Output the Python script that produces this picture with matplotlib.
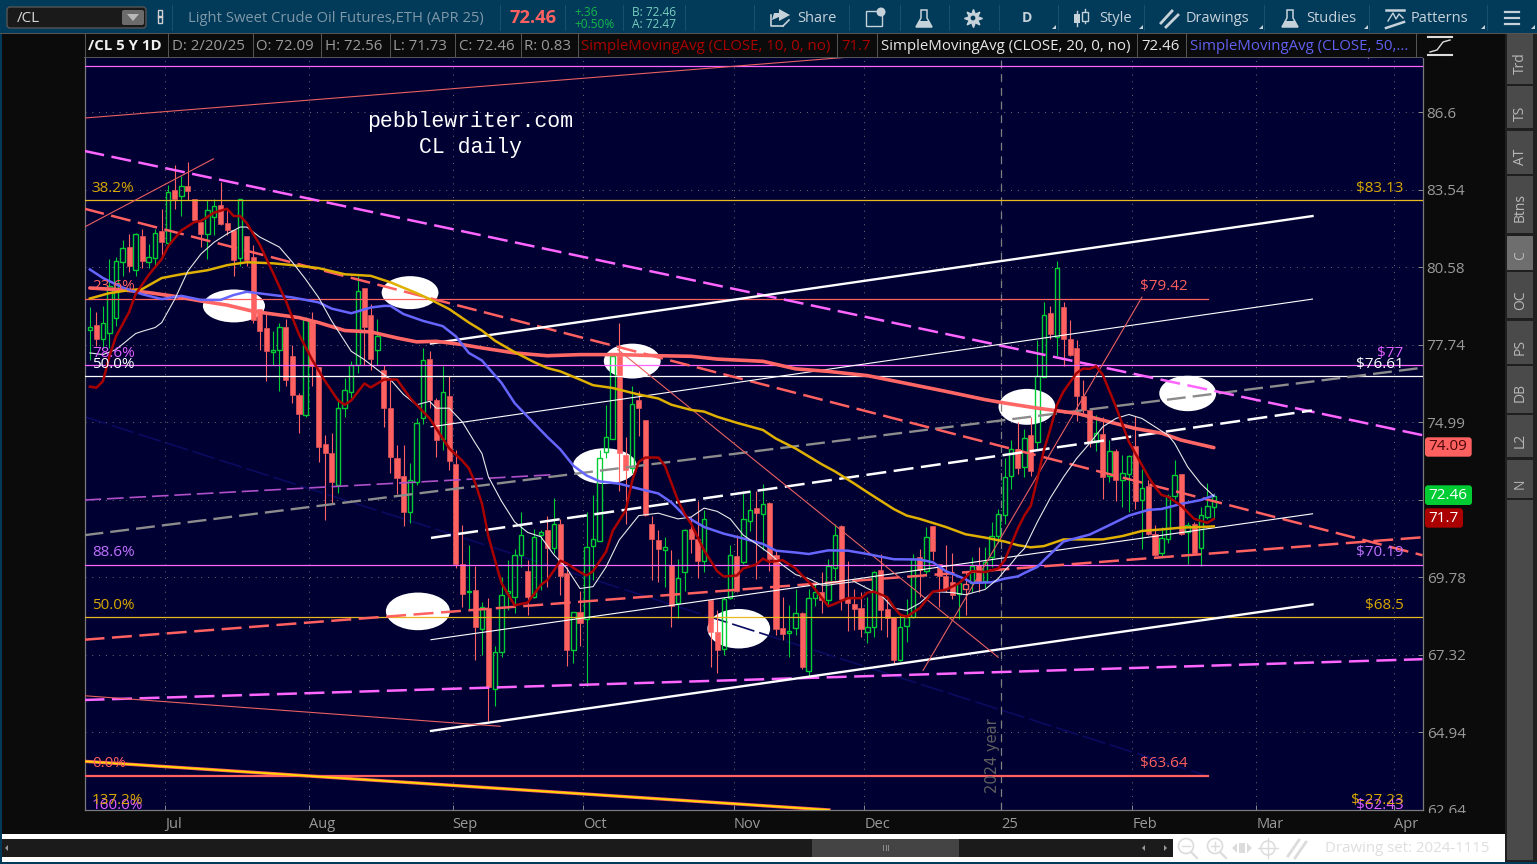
import numpy as np
import matplotlib
matplotlib.use("Agg")
import matplotlib.pyplot as plt
from matplotlib.patches import Ellipse, Rectangle, FancyBboxPatch, Circle, Polygon
from matplotlib.ticker import NullLocator

plt.rcParams['font.family'] = ['Open Sans', 'DejaVu Sans']

# daily candles, first bar is 12 sessions before the start of July
first_bar = -12
opens = [78.27, 78.44, 77.96, 78.17, 78.72, 80.79, 81.33, 80.48, 81.75, 80.77, 80.92, 81.96,
         81.50, 83.54, 83.28, 83.68, 83.19, 82.29, 81.84, 82.47, 82.96, 82.27, 82.00, 80.92, 81.75,
         80.96, 79.03, 78.33, 77.47, 77.53, 78.39, 77.34, 75.96, 75.24, 78.63, 76.94, 74.22, 73.91,
         72.83, 75.48, 76.05, 77.02, 79.80, 78.81, 77.53, 76.84, 75.50, 73.74, 73.13, 71.93, 72.93,
         75.12, 77.23, 75.78, 74.42, 75.92, 73.54, 70.21, 69.30, 69.36, 68.13, 68.79, 66.25, 67.39,
         69.29, 69.16, 70.52, 70.00, 69.16, 71.16, 71.33, 70.75, 71.54, 69.92, 67.46, 68.66, 68.44,
         70.81, 70.97, 73.97, 74.42, 77.32, 73.85, 73.40, 75.78, 75.06, 71.52, 71.00, 70.68, 70.18,
         68.96, 69.95, 71.35, 71.03, 70.31, 69.04, 68.03, 67.50, 69.13, 70.46, 70.28, 71.63, 72.05,
         71.87, 72.22, 70.50, 68.16, 67.99, 68.16, 68.65, 66.81, 69.11, 69.32, 69.04, 70.07, 71.45,
         69.11, 68.93, 68.79, 68.02, 68.18, 70.03, 68.76, 68.50, 67.17, 68.21, 68.50, 70.43, 70.00,
         71.45, 70.23, 69.84, 69.64, 69.24, 69.42, 69.59, 70.18, 69.67, 70.43, 71.14, 71.84, 73.14,
         74.05, 73.45, 74.54, 74.29, 76.58, 78.88, 78.02, 79.10, 77.95, 77.62, 75.92, 75.42, 74.31,
         74.58, 73.14, 73.99, 73.01, 73.22, 74.16, 72.33, 72.79, 71.19, 70.56, 71.02, 72.48, 73.22,
         71.25, 71.54, 70.74, 71.76, 72.09]
highs = [79.10, 78.93, 79.15, 80.89, 80.97, 81.59, 81.84, 81.88, 82.03, 81.46, 82.03, 82.80,
         83.71, 84.48, 84.05, 84.61, 83.19, 82.42, 83.12, 83.19, 83.84, 82.80, 82.00, 83.19, 81.75,
         81.40, 79.03, 78.85, 78.25, 78.54, 78.66, 77.74, 76.03, 78.73, 78.92, 76.95, 74.54, 74.60,
         75.84, 76.56, 77.14, 80.26, 79.80, 79.21, 78.66, 77.02, 76.56, 74.20, 74.20, 73.57, 75.12,
         77.62, 77.50, 75.85, 76.96, 76.63, 74.03, 71.49, 70.83, 70.14, 68.98, 69.12, 67.60, 69.79,
         70.34, 70.72, 71.94, 70.34, 71.38, 71.33, 71.81, 72.40, 71.70, 70.12, 68.66, 69.35, 71.92,
         72.50, 74.03, 75.60, 77.38, 78.52, 74.48, 76.27, 76.10, 75.06, 71.81, 71.33, 71.11, 70.67,
         70.39, 71.38, 71.76, 72.31, 71.98, 69.04, 68.74, 69.16, 70.83, 71.16, 72.65, 72.67, 72.65,
         72.88, 72.25, 70.66, 69.14, 68.90, 69.41, 68.68, 69.39, 69.58, 69.95, 70.39, 71.52, 71.49,
         70.31, 69.39, 69.32, 69.16, 70.00, 70.53, 69.16, 68.50, 68.58, 69.09, 70.53, 70.72, 71.43,
         71.45, 70.23, 70.83, 70.57, 69.60, 70.00, 70.43, 70.77, 70.77, 71.60, 72.03, 73.74, 74.37,
         75.00, 74.77, 75.18, 77.92, 79.31, 79.15, 80.82, 79.28, 78.63, 77.92, 76.49, 75.42, 75.24,
         75.18, 74.37, 74.08, 73.85, 73.85, 75.20, 73.37, 72.99, 71.49, 71.43, 72.53, 73.70, 73.22,
         71.60, 71.60, 72.09, 72.91, 72.56]
lows = [77.20, 77.68, 77.62, 77.63, 78.40, 80.26, 80.40, 80.26, 80.57, 80.57, 80.58, 81.02,
        81.34, 82.80, 82.52, 83.12, 82.30, 81.34, 80.89, 81.78, 82.16, 81.78, 80.26, 80.63, 80.63,
        78.54, 77.56, 76.43, 77.02, 76.07, 76.25, 75.67, 74.61, 75.18, 76.25, 73.62, 71.65, 72.20,
        72.55, 75.18, 75.84, 76.72, 77.02, 76.84, 77.02, 74.83, 73.23, 72.54, 71.45, 71.56, 72.82,
        74.94, 75.50, 73.79, 74.03, 73.36, 70.07, 68.84, 68.72, 67.17, 67.32, 65.28, 65.75, 67.25,
        68.74, 68.63, 70.12, 68.58, 69.11, 69.38, 69.48, 70.56, 69.22, 66.97, 67.07, 67.58, 66.36,
        69.69, 70.97, 73.74, 74.42, 72.65, 71.54, 73.23, 74.52, 71.81, 69.69, 69.64, 69.48, 68.19,
        68.47, 69.35, 70.56, 69.76, 69.95, 66.95, 66.75, 67.32, 69.08, 69.32, 70.23, 71.30, 69.74,
        70.68, 70.00, 67.95, 67.79, 67.25, 67.95, 66.87, 66.61, 68.85, 68.63, 68.85, 69.69, 68.74,
        68.05, 68.10, 67.89, 67.70, 67.87, 68.10, 67.89, 67.02, 67.12, 67.73, 68.47, 69.16, 69.84,
        70.36, 68.83, 69.32, 69.09, 68.44, 68.58, 69.31, 69.32, 69.45, 70.12, 70.89, 71.52, 72.71,
        73.20, 73.11, 73.13, 74.03, 76.58, 77.95, 77.32, 76.96, 77.32, 75.03, 75.30, 74.14, 73.99,
        72.36, 72.93, 72.31, 72.09, 71.93, 72.04, 70.69, 71.16, 70.46, 70.46, 70.89, 72.36, 71.16,
        70.23, 70.50, 70.14, 71.70, 71.73]
closes = [78.36, 77.96, 78.54, 79.89, 80.82, 81.30, 80.63, 81.84, 80.83, 80.96, 81.87, 81.52,
          83.45, 83.19, 83.68, 83.50, 82.35, 81.84, 82.74, 82.91, 82.23, 82.00, 80.85, 83.19, 80.85,
          78.62, 78.25, 77.50, 77.55, 78.39, 76.46, 75.96, 75.28, 78.66, 76.96, 74.14, 73.91, 72.93,
          75.48, 76.13, 77.02, 79.71, 78.36, 77.23, 78.04, 75.50, 73.79, 73.08, 71.93, 72.99, 74.98,
          77.20, 75.78, 74.39, 76.05, 73.66, 70.20, 69.24, 69.34, 68.18, 68.83, 66.31, 67.39, 69.22,
          69.34, 70.52, 71.16, 69.16, 71.11, 71.25, 70.75, 71.54, 69.81, 67.48, 68.66, 68.31, 70.76,
          71.02, 73.74, 74.46, 77.32, 73.91, 73.34, 75.62, 75.50, 71.84, 71.03, 70.71, 70.76, 68.87,
          69.77, 71.33, 71.03, 70.31, 71.70, 68.02, 67.48, 69.08, 70.52, 69.35, 71.70, 72.00, 71.89,
          72.20, 70.39, 68.13, 67.97, 68.07, 68.63, 66.95, 69.11, 69.32, 69.06, 70.14, 71.18, 69.09,
          68.97, 68.77, 68.13, 68.19, 69.95, 68.74, 68.47, 67.17, 68.19, 68.50, 70.37, 70.03, 71.09,
          70.65, 69.82, 69.42, 69.22, 69.59, 69.55, 70.15, 69.64, 70.28, 71.14, 71.87, 73.11, 74.08,
          73.40, 74.43, 73.32, 76.63, 78.83, 78.12, 80.57, 77.95, 77.38, 75.90, 75.42, 74.28, 74.60,
          73.11, 73.99, 72.99, 73.25, 73.82, 72.31, 72.74, 71.19, 70.50, 71.08, 72.48, 73.18, 71.21,
          71.49, 70.58, 71.84, 72.13, 72.46]
hollow_red_bars = [122]

# moving averages at these bars
sma10_bars = [-12, -11, -10, -9, -8, -6, -5, -3, -1, 0, 2, 4, 5, 7, 9, 10, 11, 12, 14, 16, 18, 20, 22, 24, 26,
              27, 28, 30, 31, 33, 35, 37, 40, 43, 45, 46, 47, 48, 49, 50, 51, 53, 55, 57, 58, 60, 61, 63, 64,
              65, 67, 68, 70, 71, 72, 73, 75, 76, 78, 79, 80, 82, 84, 85, 87, 88, 90, 91, 92, 94, 96, 97, 98,
              99, 101, 102, 104, 106, 107, 108, 110, 111, 112, 113, 115, 117, 119, 121, 123, 125, 127, 128,
              130, 131, 132, 133, 134, 135, 136, 137, 139, 140, 141, 142, 143, 145, 147, 149, 150, 151, 152,
              153, 155, 156, 157, 159, 160]
sma10 = [76.24, 76.20, 76.43, 77.32, 78.04, 78.92, 79.58, 80.29, 80.89, 81.38, 81.97, 82.29, 82.33, 82.65, 82.80,
         82.52, 82.52, 82.25, 81.43, 80.39, 79.33, 78.11, 77.20, 76.43, 75.75, 75.60, 75.75, 76.35, 76.21, 76.49,
         76.49, 75.84, 75.12, 74.08, 73.66, 73.40, 72.89, 72.21, 71.11, 70.34, 69.59, 68.88, 68.97, 69.53, 69.69,
         70.32, 70.23, 69.95, 69.84, 69.98, 70.62, 71.30, 71.98, 72.99, 73.62, 73.77, 73.77, 73.49, 72.31, 71.87,
         71.54, 70.66, 69.98, 69.81, 69.84, 70.07, 70.20, 70.39, 70.28, 70.34, 70.07, 69.84, 69.64, 69.39, 68.85,
         68.93, 69.11, 69.11, 69.29, 69.32, 69.14, 68.83, 68.58, 68.52, 68.79, 69.32, 69.38, 69.59, 69.98, 69.95,
         70.07, 70.34, 71.38, 71.81, 72.14, 73.05, 74.03, 74.77, 75.60, 76.07, 76.72, 76.88, 76.87, 76.96, 76.66,
         75.54, 74.31, 73.51, 73.11, 72.77, 72.50, 72.44, 72.14, 71.92, 71.70, 71.57, 71.70]

sma20_bars = [-12, -10, -8, -5, -4, -2, -1, 1, 3, 5, 7, 9, 11, 12, 14, 17, 19, 21, 23, 25, 28, 30, 32, 34, 36, 38,
              40, 41, 43, 45, 47, 48, 49, 51, 53, 55, 57, 59, 61, 63, 65, 67, 69, 72, 75, 78, 80, 82, 84, 86, 88,
              90, 92, 94, 96, 98, 100, 101, 103, 105, 107, 109, 111, 113, 115, 117, 120, 122, 125, 127, 128, 129,
              130, 131, 133, 135, 137, 139, 141, 143, 145, 147, 149, 151, 153, 154, 156, 158, 160]
sma20 = [77.44, 77.38, 77.56, 78.14, 78.22, 78.36, 78.54, 79.40, 80.44, 81.08, 81.52, 81.84, 82.10, 82.10, 81.72,
         81.34, 80.77, 80.14, 79.46, 78.60, 77.50, 77.20, 76.84, 76.49, 75.96, 75.60, 75.72, 75.48, 75.48, 75.00,
         74.26, 73.91, 73.11, 72.29, 71.60, 71.25, 71.11, 70.52, 70.07, 69.42, 69.48, 70.12, 71.00, 71.81, 71.89,
         71.70, 71.76, 72.06, 71.95, 71.70, 71.16, 70.87, 70.56, 70.18, 69.87, 69.74, 69.53, 69.53, 69.59, 69.64,
         69.42, 69.22, 68.79, 68.72, 68.95, 69.32, 69.29, 69.22, 69.39, 69.74, 70.00, 70.23, 70.50, 70.72, 71.60,
         72.41, 73.11, 73.74, 74.26, 74.83, 75.12, 75.26, 75.12, 74.83, 74.54, 74.26, 73.45, 72.88, 72.46]

sma50_bars = [-12, -10, -7, -4, -1, 2, 5, 8, 10, 12, 15, 19, 23, 25, 28, 31, 33, 34, 36, 39, 42, 44, 46, 48, 51, 53,
              55, 58, 60, 62, 64, 66, 69, 72, 75, 77, 79, 82, 85, 88, 91, 93, 96, 98, 101, 104, 107, 111, 115, 117,
              119, 122, 123, 126, 128, 130, 131, 133, 134, 137, 141, 144, 147, 150, 152, 155, 158, 160]
sma50 = [80.50, 80.18, 79.83, 79.58, 79.40, 79.52, 79.37, 79.37, 79.55, 79.67, 79.58, 79.46, 79.28, 79.05, 78.88,
         79.09, 79.15, 79.15, 78.85, 78.60, 78.41, 78.04, 77.44, 77.17, 76.37, 75.66, 75.18, 74.48, 74.05, 73.49,
         73.16, 72.96, 72.88, 72.71, 72.55, 72.25, 71.81, 71.43, 71.21, 71.05, 70.87, 70.65, 70.59, 70.54, 70.66,
         70.65, 70.54, 70.37, 70.36, 70.27, 69.98, 69.72, 69.60, 69.62, 69.74, 69.81, 69.92, 70.12, 70.34, 70.95,
         71.18, 71.49, 71.81, 72.00, 72.03, 72.20, 72.33, 72.48]

sma100_bars = [-12, -9, -6, -4, -1, 2, 6, 9, 12, 16, 19, 23, 27, 31, 34, 38, 40, 43, 46, 48, 50, 53, 56, 58, 60, 63,
               65, 68, 72, 75, 77, 80, 82, 84, 87, 91, 93, 96, 100, 102, 105, 107, 111, 113, 115, 119, 122, 125, 128,
               130, 132, 134, 137, 140, 143, 146, 149, 152, 155, 158, 160]
sma100 = [79.42, 79.62, 79.73, 79.77, 80.18, 80.32, 80.47, 80.66, 80.77, 80.73, 80.66, 80.55, 80.32, 80.26, 80.02,
          79.62, 79.40, 79.03, 78.54, 78.25, 77.88, 77.47, 77.11, 76.90, 76.78, 76.49, 76.29, 76.19, 75.96, 75.82,
          75.60, 75.42, 75.36, 75.18, 74.97, 74.72, 74.42, 74.08, 73.54, 73.30, 72.88, 72.59, 72.03, 71.81, 71.70,
          71.43, 71.19, 71.08, 70.95, 70.83, 70.76, 70.80, 71.02, 71.02, 71.02, 71.13, 71.30, 71.35, 71.41, 71.43, 71.45]

sma200_bars = [-12, -7, -3, 1, 5, 9, 13, 16, 20, 23, 27, 31, 35, 38, 41, 45, 48, 53, 58, 63, 69, 75, 80, 84, 91, 96,
               101, 107, 113, 119, 125, 128, 133, 139, 143, 148, 152, 155, 160]
sma200 = [79.81, 79.74, 79.64, 79.50, 79.33, 79.18, 78.95, 78.85, 78.72, 78.54, 78.25, 78.20, 77.98, 77.84, 77.86,
          77.74, 77.62, 77.44, 77.34, 77.38, 77.38, 77.34, 77.32, 77.22, 77.14, 76.87, 76.78, 76.63, 76.35, 76.07,
          75.78, 75.66, 75.48, 75.30, 75.06, 74.77, 74.61, 74.37, 74.11]

# axis
x_ticks = [-0.5, 21.5, 43.5, 63.5, 86.5, 106.5, 127.5, 147.5, 166.5, 187.5]
x_tick_labels = ['Jul', 'Aug', 'Sep', 'Oct', 'Nov', 'Dec', '25', 'Feb', 'Mar', 'Apr']
y_ticks = [86.6, 83.54, 80.58, 77.74, 74.99, 72.34, 69.78, 67.32, 64.94, 62.64]
year_bar = 127.5

# fib levels: price, colour, left label, right label
level_prices = [88.47, 83.13, 79.42, 77.0, 76.61, 70.19, 68.5, 63.64, 62.43]
level_colors = ['#ff66ff', '#e8b820', '#ff6060', '#ff66ff', '#ffffff', '#ff66ff', '#e8b820', '#ff6060', '#ff66ff']
level_left = ['94.1%', '38.2%', '23.6%', '78.6%', '50.0%', '88.6%', '50.0%', '0.0%', '160.0%']
level_right = ['$87.9', '$83.13', '$79.42', '$77', '$76.61', '$70.19', '$68.5', '$63.64', '$62.43']
level_ends = [191.93, 191.93, 159.1, 191.93, 191.93, 191.93, 191.93, 159.1, 191.93]
level_text_colors = ['#e060ff', '#d8a800', '#ff6060', '#e060ff', '#ffffff', '#c070ff', '#d8a800', '#ff6060', '#e060ff']

# trend lines, (bar, price) at each end
magenta_dash_upper = ([-12.82, 191.93], [85.05, 74.54])
magenta_dash_lower = ([-12.82, 191.93], [65.92, 67.18])
purple_dash = ([-12.82, 59.3], [72.33, 73.19])
grey_dash = ([-12.82, 191.93], [71.16, 76.91])
red_dash_upper = ([-12.82, 191.93], [82.80, 70.50])
red_dash_lower = ([-12.82, 191.93], [67.79, 71.09])
white_dash = ([40.2, 175.0], [71.07, 75.40])
white_top = ([40.2, 175.1], [77.78, 82.52])
white_thin_upper = ([40.2, 175.1], [74.83, 79.40])
white_thin_lower = ([40.2, 175.1], [67.79, 71.87])
white_bottom = ([40.2, 175.1], [64.98, 68.91])
red_thin_top = ([-12.82, 104.3], [86.36, 88.84])
red_thin_low = ([-12.82, 50.8], [66.05, 65.12])
red_thin_jul = ([-12.82, 6.9], [82.10, 84.74])
red_thin_down = ([68.8, 127.0], [77.56, 67.24])
red_thin_up = ([115.5, 149.0], [66.83, 79.47])
navy_line = ([-12.82, 158.6], [75.18, 63.66])
gold_fan = ([-12.82, 101.1], [64.07, 62.64])

# white ovals marking the pivots
oval_bars = [10.05, 37.0, 38.2, 66.8, 71.0, 87.3, 131.4, 156.0]
oval_prices = [79.15, 79.64, 68.69, 73.48, 77.15, 68.14, 75.53, 76.00]
oval_widths = [9.5, 8.7, 9.8, 9.8, 8.7, 9.6, 8.7, 8.7]
oval_heights = [1.21, 1.22, 1.20, 1.22, 1.25, 1.25, 1.26, 1.25]

W, H = 1537, 864
BG = '#000033'
GREEN = '#00cc33'
RED = '#ff6060'
GREY = '#9a9a9a'

fig = plt.figure(figsize=(W / 100, H / 100), dpi=100, facecolor='#0b0b0b')


def px_axes(z):
    a = fig.add_axes([0, 0, 1, 1], zorder=z)
    a.set_xlim(0, W)
    a.set_ylim(H, 0)
    a.axis('off')
    a.patch.set_alpha(0)
    return a


back = px_axes(0)
ax = fig.add_axes([84.5 / W, (H - 810.3) / H, 1338 / W, 752.3 / H], zorder=1, facecolor=BG)
top = px_axes(2)

# ---- chart ----
ax.set_yscale('log')
bars = np.arange(first_bar, first_bar + len(opens))
o = np.array(opens)
h = np.array(highs)
l = np.array(lows)
c = np.array(closes)
up = (c >= o) & ~np.isin(bars, hollow_red_bars)
hollow = np.isin(bars, hollow_red_bars)
dn = ~up & ~hollow
body_top = np.maximum(o, c)
body_bot = np.minimum(o, c)

for i, col in ((up, GREEN), (dn, RED), (hollow, RED)):
    ax.vlines(bars[i], body_top[i], h[i], color=col, lw=0.8, zorder=3)
    ax.vlines(bars[i], l[i], body_bot[i], color=col, lw=0.8, zorder=3)
ax.bar(bars[up], (body_top - body_bot)[up], bottom=body_bot[up], width=0.68,
       facecolor='none', edgecolor=GREEN, lw=1.0, zorder=3)
ax.bar(bars[dn], (body_top - body_bot)[dn], bottom=body_bot[dn], width=0.78,
       facecolor=RED, edgecolor=RED, lw=0.4, zorder=3)
ax.bar(bars[hollow], (body_top - body_bot)[hollow], bottom=body_bot[hollow], width=0.68,
       facecolor='none', edgecolor=RED, lw=1.0, zorder=3)

for bx, py, bw, ph in zip(oval_bars, oval_prices, oval_widths, oval_heights):
    ax.add_patch(Ellipse((bx, py), bw, ph, facecolor='white', edgecolor='none', zorder=2))

# levels
for p, col, tc, ll, rl, end in zip(level_prices, level_colors, level_text_colors, level_left, level_right, level_ends):
    lw = 1.6 if p == 63.64 else 0.9
    ax.plot([-12.82, end], [p, p], color=col, lw=lw, zorder=4, snap=True)
    ax.annotate(ll, (-11.7, p), xytext=(0, 8.6), textcoords='offset points', color=tc, fontsize=11,
                ha='left', va='center', zorder=6, annotation_clip=False, clip_on=True)
    rx = 156.0 if end < 190 else 189.0
    ax.annotate(rl, (rx, p), xytext=(0, 8.6), textcoords='offset points', color=tc, fontsize=11,
                ha='right', va='center', zorder=6, annotation_clip=False, clip_on=True)
# fib labels whose level is off this scale
ax.text(-11.7, 62.93, '137.2%', color='#d8a800', fontsize=11, ha='left', va='center', zorder=6)
ax.text(189.0, 62.93, '$-27.23', color='#d8a800', fontsize=11, ha='right', va='center', zorder=6)

DASH = (0, (8, 3))
ax.plot(*navy_line, color='#0a0a60', lw=1.2, ls=(0, (14, 3)), zorder=2.5)
ax.plot(*purple_dash, color='#b050c8', lw=1.2, ls=(0, (10, 3.5)), zorder=4)
ax.plot(*grey_dash, color='#8c8c8c', lw=1.7, ls=DASH, zorder=4)
ax.plot(*magenta_dash_upper, color='#ff66ff', lw=1.8, ls=DASH, zorder=4)
ax.plot(*magenta_dash_lower, color='#ff66ff', lw=1.8, ls=DASH, zorder=4)
ax.plot(*red_dash_upper, color=RED, lw=1.8, ls=DASH, zorder=4)
ax.plot(*red_dash_lower, color=RED, lw=1.8, ls=DASH, zorder=4)
ax.plot(*white_dash, color='white', lw=1.8, ls=DASH, zorder=4)
ax.plot(*white_top, color='white', lw=1.7, zorder=4)
ax.plot(*white_bottom, color='white', lw=1.7, zorder=4)
ax.plot(*white_thin_upper, color='white', lw=0.8, zorder=4)
ax.plot(*white_thin_lower, color='white', lw=0.8, zorder=4)
for line in (red_thin_top, red_thin_low, red_thin_jul, red_thin_down, red_thin_up):
    ax.plot(*line, color='#e86060', lw=0.8, zorder=4)
ax.plot(*gold_fan, color='#ff6060', lw=2.4, zorder=4)
ax.plot(*gold_fan, color='#ffd800', lw=1.3, zorder=4)

ax.plot(sma200_bars, sma200, color='#ff6666', lw=2.6, zorder=5, solid_capstyle='round')
ax.plot(sma100_bars, sma100, color='#e0b000', lw=1.8, zorder=5)
ax.plot(sma50_bars, sma50, color='#6666ff', lw=1.8, zorder=5)
ax.plot(sma20_bars, sma20, color='#e8e8e8', lw=0.8, zorder=5)
ax.plot(sma10_bars, sma10, color='#aa0000', lw=1.8, zorder=5)

# year break
ax.axvline(year_bar, color='#808080', lw=0.9, ls=(0, (6, 5)), zorder=3)
ax.text(year_bar - 1.4, 64.23, '2024 year', rotation=90, color='#5f5f5f', fontsize=10.5,
        ha='center', va='center', zorder=6, family='DejaVu Sans')

ax.text(46.2, 86.21, 'pebblewriter.com', color='white', fontsize=15.5, family='Liberation Mono',
        ha='center', va='center', zorder=6)
ax.text(46.2, 85.2, 'CL daily', color='white', fontsize=15.5, family='Liberation Mono',
        ha='center', va='center', zorder=6)

ax.set_xlim(-12.82, 191.93)
ax.set_ylim(62.63, 88.80)
ax.yaxis.set_minor_locator(NullLocator())
ax.yaxis.tick_right()
ax.set_yticks(y_ticks)
ax.set_yticklabels([str(v) for v in y_ticks])
ax.set_xticks(x_ticks)
ax.set_xticklabels(x_tick_labels, ha='left')
ax.tick_params(axis='x', direction='in', length=3.5, width=0.7, color='#8a8a8a', labelcolor=GREY,
               labelsize=10.5, pad=4.5)
ax.tick_params(axis='y', direction='in', length=3.5, width=0.7, color='#8a8a8a', labelcolor=GREY,
               labelsize=11, pad=3)
ax.grid(True, color='#707070', lw=0.7, ls=(0, (1, 6)), zorder=1)
ax.set_axisbelow(True)
for side in ax.spines:
    ax.spines[side].set_color('#7a7a7a')
    ax.spines[side].set_linewidth(0.9)
ax.spines['top'].set_visible(False)


# ---- program window around the chart ----
def box(a, x0, y0, x1, y1, color, z=1):
    a.add_patch(Rectangle((x0, y0), x1 - x0, y1 - y0, facecolor=color, edgecolor='none', zorder=z))


TEAL = '#023a5a'
box(back, 0, 0, W, H, '#0b0b0b', 0)
box(top, 0, 0, W, 33, TEAL)
box(top, 0, 0, 2, H, TEAL)
box(top, 0, 862, W, H, TEAL)
box(top, 0, 33, W, 34, '#555555', 2)
box(top, 2, 34, 1505, 58, '#0b0b0b')
box(top, 2, 58, 84, 810, '#0b0b0b', 0.5)
box(top, 1423.5, 813, 1505, 834, '#0b0b0b')  # cuts off the lowest price label
box(top, 84, 57.4, 1423, 58.4, '#555555', 2)

# title bar
top.add_patch(FancyBboxPatch((7, 7), 139, 21, boxstyle='round,pad=0,rounding_size=3', fc='#1a1a1a',
                             ec='#555555', lw=1, zorder=2))
top.text(17, 18, '/CL', color='#d8d8d8', fontsize=11, va='center', zorder=3)
top.add_patch(FancyBboxPatch((122, 10), 22, 15, boxstyle='round,pad=0,rounding_size=2', fc='#6b6b6b',
                             ec='none', zorder=3))
top.add_patch(Polygon([(127, 14), (139, 14), (133, 21)], fc='#b8b8b8', ec='none', zorder=4))
top.add_patch(Rectangle((157.5, 10), 4, 7, fc='none', ec='#d0d0d0', lw=1, zorder=3))
top.add_patch(Rectangle((157.5, 16), 4, 7, fc='none', ec='#d0d0d0', lw=1, zorder=3))
top.text(188, 18, 'Light Sweet Crude Oil Futures,ETH (APR 25)', color='#7f98a8', fontsize=10.6, va='center', zorder=3)
top.text(510, 18, '72.46', color=RED, fontsize=13.2, fontweight='bold', va='center', zorder=3)
top.text(574, 12, '+.36', color='#12b84a', fontsize=8.6, va='center', zorder=3)
top.text(574, 24, '+0.50%', color='#12b84a', fontsize=8.6, va='center', zorder=3)
top.text(632, 12, 'B: 72.46', color='#79d0c0', fontsize=8.6, va='center', zorder=3)
top.text(632, 24, 'A: 72.47', color='#79d0c0', fontsize=8.6, va='center', zorder=3)

for sx in [172, 500, 565, 623, 685, 754, 849, 900, 949, 999, 1058, 1144, 1264, 1369, 1487]:
    box(top, sx, 5, sx + 1, 31, '#15506f', 2)

FG = '#c6d2da'
for tx, label in ((797, 'Share'), (1099, 'Style'), (1186, 'Drawings'), (1306, 'Studies'), (1411, 'Patterns')):
    top.text(tx, 18, label, color=FG, fontsize=10.5, va='center', zorder=3)
top.text(1027, 18, 'D', color=FG, fontsize=10, fontweight='bold', ha='center', va='center', zorder=3)
for cx in [1052, 1139, 1259, 1364, 1481, 1531]:
    top.add_patch(Polygon([(cx, 29), (cx + 4, 29), (cx + 4, 25)], fc=FG, ec='none', zorder=3))

# toolbar icons
top.plot([771, 771, 783], [15, 26, 26], color=FG, lw=1.2, zorder=3)
top.plot([783, 789], [26, 20], color=FG, lw=1.2, zorder=3)
top.add_patch(Polygon([(779, 9), (790, 15), (779, 21), (779, 17), (772, 20), (774, 13), (779, 13)], fc=FG, ec='none', zorder=3))
top.add_patch(Rectangle((866, 11), 16, 15, fc='none', ec=FG, lw=1, zorder=3))
top.add_patch(Circle((881, 12), 4.5, fc=FG, ec='none', zorder=4))
for fx in (924, 1290):
    top.add_patch(Polygon([(fx - 3, 10), (fx + 3, 10), (fx + 3, 18), (fx + 8, 27), (fx - 8, 27), (fx - 3, 18)],
                          fc='none', ec=FG, lw=1.1, zorder=3))
    top.add_patch(Polygon([(fx - 5, 21), (fx + 5, 21), (fx + 8, 27), (fx - 8, 27)], fc=FG, ec='none', zorder=3))
top.plot([973], [18], marker=(8, 1, 0), ms=13, color=FG, mec=FG, zorder=3)
top.add_patch(Circle((973, 18), 5, fc=FG, ec='none', zorder=3))
top.add_patch(Circle((973, 18), 2.4, fc=TEAL, ec='none', zorder=4))
top.plot([1077, 1077], [11, 26], color=FG, lw=1, zorder=3)
top.plot([1085, 1085], [9, 23], color=FG, lw=1, zorder=3)
top.add_patch(Rectangle((1074, 14), 6, 9, fc=FG, ec='none', zorder=4))
top.add_patch(Rectangle((1082, 12), 6, 9, fc=TEAL, ec=FG, lw=1, zorder=4))
top.plot([1161, 1172], [23, 11], color=FG, lw=2, zorder=3)
top.plot([1166, 1178], [27, 15], color=FG, lw=2, zorder=3)
top.plot([1386, 1404], [10, 10], color=FG, lw=1.8, zorder=3)
top.plot([1386, 1404], [28, 22], color=FG, lw=1.8, zorder=3)
top.plot([1388, 1393, 1396, 1399, 1403], [21, 13, 19, 14, 18], color=FG, lw=1, zorder=3)
for ly in (12, 18, 24):
    top.plot([1505, 1508], [ly, ly], color=FG, lw=1.6, zorder=3)
    top.plot([1510, 1519], [ly, ly], color=FG, lw=1.6, zorder=3)

# study header row
for sx in [84.5, 167.5, 252.5, 321, 389.5, 455, 520.6, 577.6, 837, 876.6, 1137, 1186, 1416]:
    box(top, sx, 34, sx + 1, 58, '#555555', 2)
hdr = [(88, '/CL 5 Y 1D', '#f0f0f0', 'bold'), (172, 'D: 2/20/25', GREY, 'normal'), (256, 'O: 72.09', GREY, 'normal'),
       (325, 'H: 72.56', GREY, 'normal'), (393, 'L: 71.73', GREY, 'normal'), (458.6, 'C: 72.46', GREY, 'normal'),
       (524, 'R: 0.83', GREY, 'normal'), (581, 'SimpleMovingAvg (CLOSE, 10, 0, no)', '#aa0000', 'normal'),
       (841, '71.7', '#aa0000', 'normal'), (881, 'SimpleMovingAvg (CLOSE, 20, 0, no)', '#e8e8e8', 'normal'),
       (1141, '72.46', '#e8e8e8', 'normal'), (1190, 'SimpleMovingAvg (CLOSE, 50,...', '#6060f0', 'normal')]
for tx, label, col, weight in hdr:
    top.text(tx, 46, label, color=col, fontsize=10.85, fontweight=weight, va='center', zorder=3)
top.plot([1428, 1452], [37, 37], color='#dddddd', lw=1.5, zorder=3)
top.plot([1428, 1452], [55, 55], color='#dddddd', lw=1.5, zorder=3)
top.plot([1430, 1437, 1443, 1450], [52, 50, 42, 40], color='#dddddd', lw=1, zorder=3)

# current value flags on the price scale
flags = [(1425, 1471.7, 437.3, 456.7, RED, '#4a0808', '74.09'),
         (1425, 1472, 485.3, 505, '#00cc33', 'white', '72.46'),
         (1425, 1463, 508.3, 527.7, '#aa0000', 'white', '71.7')]
for x0, x1, y0, y1, fc, tc, label in flags:
    top.add_patch(FancyBboxPatch((x0, y0), x1 - x0, y1 - y0, boxstyle='round,pad=0,rounding_size=3',
                                 fc=fc, ec='none', zorder=3))
    top.text(x0 + 3, (y0 + y1) / 2, label, color=tc, fontsize=11, va='center', zorder=4)

# side tabs
box(top, 1505, 34, W, 862, '#1f1f1f', 1)
tab_y = [(34, 84), (86, 128), (131, 174), (176, 233), (236, 270), (272, 318), (321, 364), (366, 413), (415, 457),
         (460, 498), (500, 860)]
tab_txt = ['Trd', 'TS', 'AT', 'Btns', 'C', 'OC', 'PS', 'DB', 'L2', 'N', '']
tab_txt_y = [63, 113, 157, 207, 256, 300, 347, 393, 440, 484, 0]
for (y0, y1), label, ty in zip(tab_y, tab_txt, tab_txt_y):
    box(top, 1507, y0, 1533, y1, '#6e6e6e' if label == 'C' else '#4a4a4a', 2)
    if label:
        top.text(1520.5, ty, label, color='#b8b8b8', fontsize=10, rotation=90,
                 ha='center', va='center', zorder=3)

# bottom strip
box(top, 2, 834, 1505, 862, 'white')
box(top, 2, 839, 1173, 857, '#1b1b1b', 2)
box(top, 811.6, 839, 959, 857, '#444444', 3)
for sx in (883, 885.5, 888):
    box(top, sx, 845, sx + 1, 851, '#8a8a8a', 4)
for cx, sgn in ((8, -1), (1145, -1), (1164, 1)):
    top.add_patch(Polygon([(cx, 845), (cx, 851), (cx + 3 * sgn, 848)], fc='#9a9a9a', ec='none', zorder=4))
IC = '#dcdcdc'
for cx, plus in ((1186, False), (1215, True)):
    top.add_patch(Circle((cx, 846), 7.5, fc='none', ec=IC, lw=1.2, zorder=3))
    top.plot([cx + 5, cx + 11], [852, 858], color=IC, lw=1.6, zorder=3)
    top.plot([cx - 4, cx + 4], [846, 846], color=IC, lw=1, zorder=3)
    if plus:
        top.plot([cx, cx], [842, 850], color=IC, lw=1, zorder=3)
top.add_patch(Polygon([(1232, 848), (1237, 843), (1237, 853)], fc=IC, ec='none', zorder=3))
top.add_patch(Polygon([(1252, 848), (1247, 843), (1247, 853)], fc=IC, ec='none', zorder=3))
top.add_patch(Rectangle((1239, 843), 6, 10, fc=IC, ec='none', zorder=3))
top.add_patch(Circle((1268, 848), 7, fc='none', ec=IC, lw=1.1, zorder=3))
top.plot([1268, 1268], [838, 858], color=IC, lw=1, zorder=3)
top.plot([1258, 1278], [848, 848], color=IC, lw=1, zorder=3)
top.plot([1288, 1299], [856, 840], color=IC, lw=2, zorder=3)
top.plot([1295, 1306], [858, 842], color=IC, lw=2, zorder=3)
top.text(1325, 848, 'Drawing set: 2024-1115', color='#dedede', fontsize=10.8, va='center', zorder=3)

fig.savefig('out.png', dpi=100, facecolor=fig.get_facecolor())
